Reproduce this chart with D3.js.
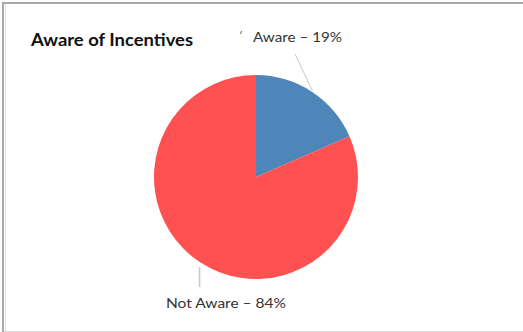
<!DOCTYPE html>
<html>
<head>
<meta charset="utf-8">
<script src="https://cdn.jsdelivr.net/npm/d3@7/dist/d3.min.js"></script>
<style>
  html, body { margin: 0; padding: 0; background: #fff; }
  svg { display: block; }
</style>
</head>
<body>
<svg id="chart" width="523" height="332"></svg>
<script>
// Survey result: awareness of incentives
const categories = ["Aware", "Not Aware"];
const values = [19, 84];
const colors = ["#4E86BA", "#FF5052"];
const title = "Aware of Incentives";

const W = 523, H = 332;
const cx = 256, cy = 177, r = 102;

const svg = d3.select("#chart");

// frame
svg.append("rect").attr("x", 0).attr("y", 0).attr("width", W).attr("height", H).attr("fill", "#fff");
svg.append("line").attr("x1", 3).attr("x2", W).attr("y1", 3).attr("y2", 3)
  .attr("stroke", "#a9a9a9").attr("stroke-width", 2);
svg.append("line").attr("x1", 3).attr("x2", 3).attr("y1", 2).attr("y2", H)
  .attr("stroke", "#a9a9a9").attr("stroke-width", 2);
svg.append("line").attr("x1", 5.5).attr("x2", 5.5).attr("y1", 4).attr("y2", H)
  .attr("stroke", "#e4e4e4").attr("stroke-width", 1);
svg.append("line").attr("x1", 4).attr("x2", W).attr("y1", 331.5).attr("y2", 331.5)
  .attr("stroke", "#dcdcdc").attr("stroke-width", 1);

// title
const fontFam = "Lato, 'Open Sans', 'DejaVu Sans', sans-serif";
function fitText(sel, width) {
  const len = sel.node().getComputedTextLength();
  if (len > 0) sel.attr("textLength", width).attr("lengthAdjust", "spacingAndGlyphs");
  return sel;
}
fitText(svg.append("text").attr("x", 31).attr("y", 46)
  .attr("font-family", fontFam).attr("font-weight", "bold").attr("font-size", 16.5)
  .attr("fill", "#111").text(title), 162);

// pie
const pie = d3.pie().value(d => d).sort(null);
const arcs = pie(values);
const arc = d3.arc().innerRadius(0).outerRadius(r);

const g = svg.append("g").attr("transform", `translate(${cx},${cy})`);
g.selectAll("path").data(arcs).enter().append("path")
  .attr("d", arc)
  .attr("fill", (d, i) => colors[i]);

// leader lines and labels
const mid = d => (d.startAngle + d.endAngle) / 2;
const edge = (d, rr) => [cx + rr * Math.sin(mid(d)), cy - rr * Math.cos(mid(d))];
const leaderColor = "#c8c8c8";

// Aware label (above right)
{
  const p = edge(arcs[0], r + 1);
  svg.append("line").attr("x1", p[0]).attr("y1", p[1]).attr("x2", 295).attr("y2", 54)
    .attr("stroke", leaderColor).attr("stroke-width", 1);
  svg.append("line").attr("x1", 241.5).attr("y1", 31).attr("x2", 240.5).attr("y2", 34)
    .attr("stroke", "#666").attr("stroke-width", 1);
  fitText(svg.append("text").attr("x", 253).attr("y", 42)
    .attr("font-family", fontFam).attr("font-size", 13.5).attr("fill", "#333")
    .text(`${categories[0]} – ${values[0]}%`), 89);
}

// Not Aware label (below)
{
  const p = edge(arcs[1], r + 1);
  svg.append("line").attr("x1", p[0]).attr("y1", p[1] + 4).attr("x2", p[0]).attr("y2", 287)
    .attr("stroke", leaderColor).attr("stroke-width", 1.5);
  fitText(svg.append("text").attr("x", 166).attr("y", 308)
    .attr("font-family", fontFam).attr("font-size", 13.5).attr("fill", "#333")
    .text(`${categories[1]} – ${values[1]}%`), 120);
}
</script>
</body>
</html>
